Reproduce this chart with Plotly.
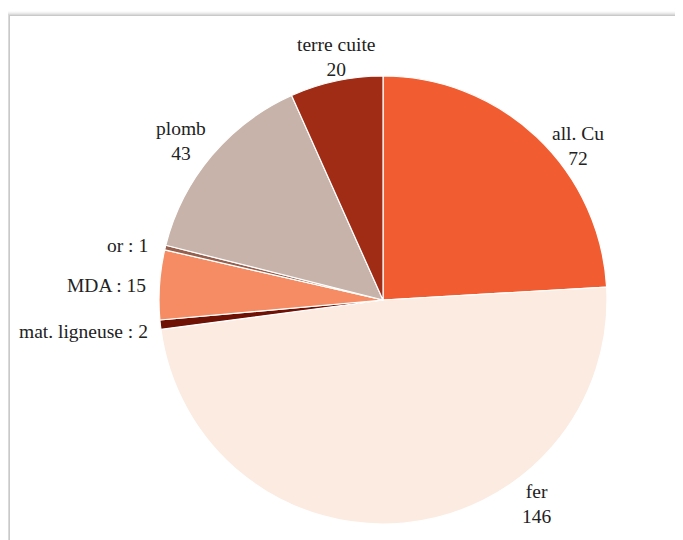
import plotly.graph_objects as go

labels = ["all. Cu", "fer", "mat. ligneuse", "MDA", "or", "plomb", "terre cuite"]
values = [72, 146, 2, 15, 1, 43, 20]
colors = ["#F15D31", "#FCEBE1", "#6E1206", "#F68C63", "#96604F", "#C7B3A9", "#A02C16"]

W, H = 683, 540
OFF = 8  # page body margin offset
cx, cy, R = 383 - OFF, 300 - OFF, 224

fig = go.Figure(go.Pie(
    labels=labels, values=values, sort=False, direction="clockwise", rotation=0,
    marker=dict(colors=colors, line=dict(color="white", width=1.2)),
    textinfo="none", hoverinfo="label+value", showlegend=False,
    domain=dict(x=[(cx - R) / W, (cx + R) / W], y=[1 - (cy + R) / H, 1 - (cy - R) / H]),
))

label_pos = {
    "all. Cu": (578, 146, "center", "two"),
    "fer": (537, 504, "center", "two"),
    "mat. ligneuse": (150, 331, "right", "one"),
    "MDA": (148, 285, "right", "one"),
    "or": (150, 245, "right", "one"),
    "plomb": (181, 141, "center", "two"),
    "terre cuite": (336, 57, "center", "two"),
}
font = dict(family="Liberation Serif", size=19.5, color="#222222")
for lab, val in zip(labels, values):
    x, y, anc, mode = label_pos[lab]
    x -= OFF
    y -= OFF
    text = f"{lab}<br>{val}" if mode == "two" else f"{lab} : {val}"
    fig.add_annotation(x=x / W, y=1 - y / H, xref="paper", yref="paper", text=text,
                       showarrow=False, xanchor=anc, yanchor="middle", align=anc,
                       font=font)

shapes = []
cl, ct = 10 - OFF, 16 - OFF
for i, op in enumerate([0.015, 0.03, 0.045, 0.06, 0.075]):
    d = 5 - i
    shapes.append(dict(type="rect", xref="paper", yref="paper", layer="below",
                       x0=(cl - d) / W, x1=1.02, y0=-0.02, y1=1 - (ct - d) / H,
                       fillcolor=f"rgba(0,0,0,{op})", line=dict(width=0)))
shapes.append(dict(type="rect", xref="paper", yref="paper", layer="below",
                   x0=cl / W, x1=1.02, y0=-0.02, y1=1 - ct / H,
                   fillcolor="white", line=dict(width=0)))

fig.update_layout(width=W, height=H, margin=dict(l=0, r=0, t=0, b=0),
                  paper_bgcolor="white", plot_bgcolor="white", shapes=shapes,
                  font=dict(family="Liberation Serif"))
fig.write_html("out.html")
